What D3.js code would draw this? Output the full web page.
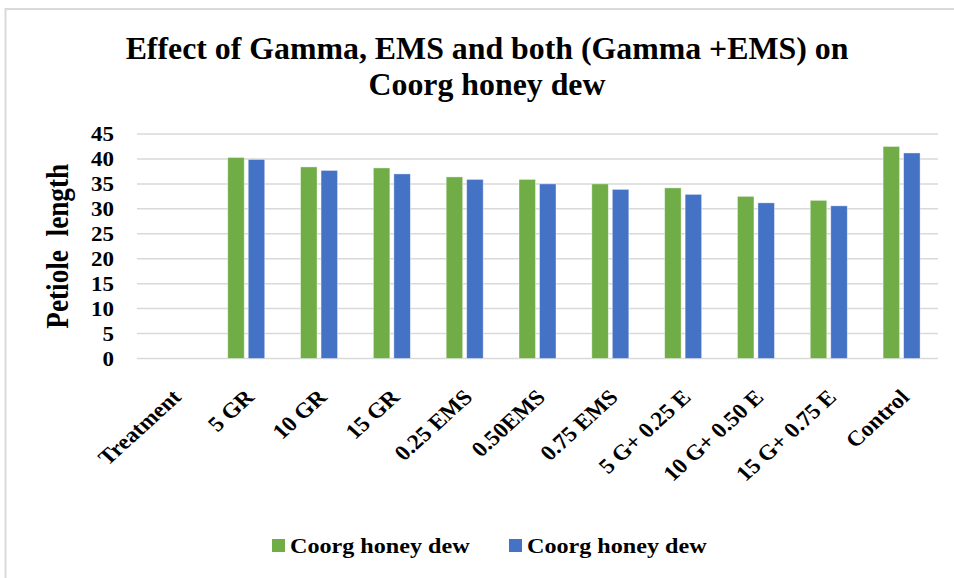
<!DOCTYPE html>
<html>
<head>
<meta charset="utf-8">
<script src="https://cdn.jsdelivr.net/npm/d3@7"></script>
<style>
  html, body { margin: 0; padding: 0; background: #fff; }
  svg { display: block; }
</style>
</head>
<body>
<svg id="chart" width="954" height="578" font-family="Liberation Serif, Times New Roman, serif" font-weight="bold"></svg>
<script>
const categories = ["Treatment", "5 GR", "10 GR", "15 GR", "0.25 EMS", "0.50EMS", "0.75 EMS", "5 G+ 0.25 E", "10 G+ 0.50 E", "15 G+ 0.75 E", "Control"];
const seriesNames = ["Coorg honey dew", "Coorg honey dew"];
const series1 = [null, 40.3, 38.4, 38.2, 36.4, 35.9, 35.0, 34.2, 32.5, 31.7, 42.5];
const series2 = [null, 39.9, 37.7, 37.0, 35.9, 35.0, 33.9, 32.9, 31.2, 30.6, 41.2];
const yTicks = [0, 5, 10, 15, 20, 25, 30, 35, 40, 45];
const colors = ["#70AD47", "#4472C4"];
const titleLines = ["Effect of Gamma, EMS and both (Gamma +EMS) on", "Coorg honey dew"];
const yTitle = "Petiole  length";

const FONT = '"Liberation Serif", "Times New Roman", serif';
const SX = 1.15; // horizontal stretch of the reference tick/legend glyphs
const BASE = 20;  // base font size; larger text is scaled by transform

const svg = d3.select("#chart");
function styleText(sel) {
  sel.style("font-family", FONT).style("font-weight", "bold").style("font-size", BASE + "px").attr("fill", "#000");
  return sel;
}

// outer frame
svg.append("rect").attr("x", 5.5).attr("y", 9).attr("width", 960).attr("height", 600)
  .attr("fill", "none").attr("stroke", "#d9d9d9").attr("stroke-width", 2);

const m = { left: 137, right: 938, top: 134, bottom: 358.5 };
const x = d3.scaleBand().domain(categories).range([m.left, m.right]).paddingInner(0).paddingOuter(0);
const y = d3.scaleLinear().domain([0, 45]).range([m.bottom, m.top]);

// gridlines
svg.append("g").selectAll("line").data(yTicks).join("line")
  .attr("x1", m.left).attr("x2", m.right)
  .attr("y1", d => y(d)).attr("y2", d => y(d))
  .attr("stroke", "#d9d9d9").attr("stroke-width", 1.5);

// y tick labels
const yAxis = d3.axisLeft(y).tickValues(yTicks).tickSize(0).tickPadding(0);
const gy = svg.append("g").attr("transform", `translate(${m.left - 23},0) scale(${SX},1)`).call(yAxis);
gy.attr("font-family", null).attr("font-size", null);
gy.select(".domain").remove();
styleText(gy.selectAll("text")).attr("dy", "0.34em");

// bars
const barW = 16.5, gap = 4;
const data = [series1, series2];
data.forEach((s, si) => {
  svg.append("g").selectAll("rect").data(categories.map((c, i) => ({ c, v: s[i] })).filter(d => d.v != null))
    .join("rect")
    .attr("x", d => x(d.c) + x.bandwidth() / 2 - (barW + gap / 2) + si * (barW + gap))
    .attr("y", d => y(d.v))
    .attr("width", barW)
    .attr("height", d => y(0) - y(d.v))
    .attr("fill", colors[si])
    .attr("stroke", "#ffffff").attr("stroke-opacity", 0.5).attr("stroke-width", 0.8);
});

// x axis labels (rotated)
const xs = 21.5 / BASE;
styleText(svg.append("g").selectAll("text").data(categories).join("text")
  .attr("transform", d => `translate(${x(d) + x.bandwidth() / 2 + 9},${m.bottom + 40}) scale(${xs * 1.1},${xs}) rotate(-45)`)
  .attr("text-anchor", "end")
  .text(d => d));

// title
const tt = styleText(svg.append("g").selectAll("text").data(titleLines).join("text")
  .attr("text-anchor", "middle")
  .text(d => d));
const w0 = tt.nodes()[0].getComputedTextLength();
const tk = 723 / w0;
tt.attr("transform", (d, i) => `translate(487,${59 + i * 36}) scale(${tk})`);

// y title
const yt = styleText(svg.append("text")
  .attr("text-anchor", "middle")
  .attr("xml:space", "preserve")
  .style("white-space", "pre")
  .text(yTitle));
const yk = 165 / yt.node().getComputedTextLength();
yt.attr("transform", `translate(68,${(m.top + m.bottom) / 2}) scale(${SX * yk},${yk}) rotate(-90)`);

// legend
const legendX = [272, 509];
const lk = 21 / BASE;
seriesNames.forEach((n, i) => {
  const g = svg.append("g").attr("transform", `translate(${legendX[i]},0)`);
  g.append("rect").attr("x", 0).attr("y", 539).attr("width", 13).attr("height", 13).attr("fill", colors[i]);
  styleText(g.append("text").attr("transform", `translate(18,553) scale(${SX * lk},${lk})`).text(n));
});
</script>
</body>
</html>
